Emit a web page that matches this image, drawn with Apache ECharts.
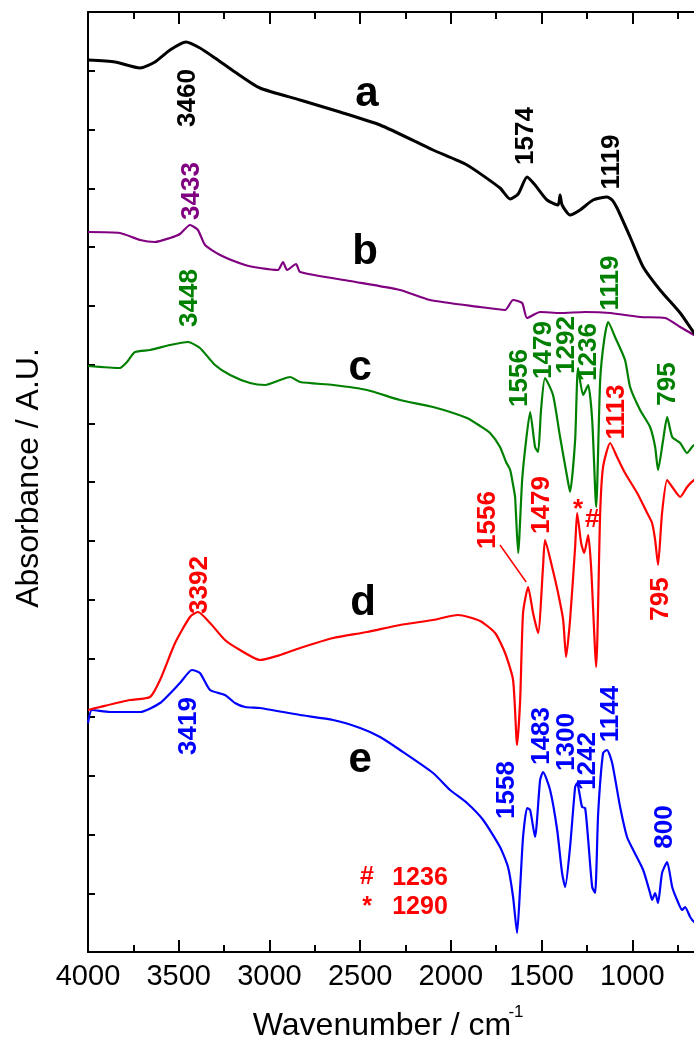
<!DOCTYPE html>
<html><head><meta charset="utf-8">
<script src="https://cdn.jsdelivr.net/npm/echarts/dist/echarts.min.js"></script>
<style>html,body{margin:0;padding:0;background:#fff}#c{width:694px;height:1051px}</style>
</head><body><div id="c"></div><script>
// ---- data: [wavenumber (cm-1), absorbance (arbitrary offset units)] ----
const curveA = [[4000,892],[3851,890],[3713,884],[3631,890],[3548,902],[3460,910],[3383,904],[3300,894],[3190,880],[3052,864],[2831,852],[2611,840],[2390,827],[2098,802],[1911,787],[1729,764],[1673,753],[1629,758],[1580,775],[1536,767],[1470,752],[1409,747],[1398,757],[1387,747],[1343,737],[1288,742],[1216,752],[1139,755],[1111,752],[1084,744],[1012,715],[940,685],[847,662],[736,639],[659,619],[626,612]];
const curveB = [[4000,720],[3824,719],[3713,712],[3631,710],[3548,714],[3493,718],[3438,727],[3394,722],[3355,707],[3272,697],[3134,687],[3052,684],[2953,682],[2925,690],[2903,682],[2853,688],[2831,680],[2556,671],[2280,662],[2115,652],[1839,645],[1701,642],[1657,652],[1607,649],[1580,634],[1508,640],[1398,639],[1260,640],[1122,639],[957,635],[819,634],[736,625],[659,617],[626,614]];
const curveC = [[4000,586],[3824,584],[3785,590],[3741,600],[3658,602],[3548,607],[3449,610],[3383,604],[3300,587],[3217,577],[3107,569],[3024,567],[2941,572],[2886,575],[2831,570],[2649,567],[2462,562],[2280,552],[2098,545],[1911,534],[1839,526],[1784,519],[1729,505],[1696,490],[1673,482],[1657,467],[1646,455],[1629,399],[1607,472],[1585,512],[1563,540],[1536,505],[1519,500],[1503,542],[1481,574],[1437,557],[1398,515],[1359,475],[1343,460],[1315,512],[1299,584],[1271,557],[1243,567],[1221,532],[1199,445],[1177,572],[1155,612],[1133,630],[1095,615],[1040,592],[1012,565],[957,542],[902,525],[874,505],[858,482],[830,512],[808,535],[780,515],[736,509],[698,499],[659,507],[626,507]];
const curveD = [[4000,242],[3934,245],[3768,252],[3658,255],[3603,272],[3520,309],[3438,335],[3394,340],[3327,329],[3245,312],[3162,302],[3052,292],[2941,297],[2831,304],[2649,314],[2462,320],[2280,327],[2098,332],[1960,337],[1839,331],[1756,319],[1701,299],[1657,272],[1635,207],[1618,252],[1602,339],[1574,365],[1547,339],[1519,319],[1492,385],[1481,412],[1442,385],[1409,359],[1381,332],[1365,295],[1343,332],[1315,405],[1304,439],[1282,409],[1265,399],[1243,417],[1227,385],[1199,285],[1177,439],[1161,485],[1122,509],[1084,495],[1040,479],[973,459],[918,439],[891,429],[874,412],[858,387],[836,439],[808,472],[780,465],[736,455],[698,465],[659,472],[626,474]];
const curveE = [[4000,229],[3978,242],[3879,240],[3713,240],[3603,249],[3493,269],[3427,282],[3383,279],[3327,262],[3245,257],[3190,249],[3134,245],[3052,244],[2831,237],[2649,232],[2500,224],[2390,215],[2280,202],[2098,179],[2004,162],[1911,149],[1822,132],[1729,105],[1685,85],[1657,55],[1635,19],[1618,65],[1602,115],[1580,144],[1563,142],[1536,115],[1508,172],[1492,180],[1453,162],[1414,122],[1387,79],[1370,65],[1343,105],[1315,165],[1304,169],[1277,145],[1260,144],[1243,112],[1221,65],[1205,59],[1188,139],[1161,199],[1139,202],[1111,189],[1067,145],[1029,115],[995,102],[940,82],[902,59],[891,52],[874,59],[858,49],[836,79],[808,90],[780,65],[753,52],[725,42],[709,45],[681,35],[659,30],[626,27]];

// peak annotations: [x, y, text]
const peaksA = [[3449,854,'3460'],[1585,816,'1574'],[1111,790,'1119']];
const peaksB = [[3427,761,'3433']];
const peaksC = [[3438,654,'3448'],[1618,574,'1556'],[1486,602,'1479'],[1359,607,'1292'],[1238,600,'1236'],[1117,669,'1119'],[802,568,'795']];
const peaksD = [[3383,367,'3392'],[1795,432,'1556'],[1497,447,'1479'],[1084,540,'1113'],[841,353,'795']];
const marksD = [[1299,442,'*'],[1221,432,'#']];
const peaksE = [[3443,226,'3419'],[1690,162,'1558'],[1497,216,'1483'],[1359,210,'1300'],[1243,191,'1242'],[1117,238,'1144'],[819,125,'800']];
const curveLetters = [[2462,858,'a'],[2473,700,'b'],[2500,584,'c'],[2484,349,'d'],[2500,192,'e']];
const keyText = [[2462,75,'#'],[2170,74,'1236'],[2462,45,'*'],[2170,45,'1290']];
const connector1556 = [[1729,407],[1585,370]];

const xTicks = {min:500, max:4000, interval:500};
const colors = {a:'#000000', b:'#800080', c:'#008000', d:'#ff0000', e:'#0000ff'};

const FONT = '"Liberation Sans", Arial, sans-serif';
const chart = echarts.init(document.getElementById('c'), null, {renderer:'canvas'});

function lineSeries(data, color, w){
  return {type:'line', data, showSymbol:false, symbol:'none', smooth:0.2,
    lineStyle:{color, width:w, opacity:1}, itemStyle:{color, opacity:1}, silent:true, animation:false, z:2};
}
function labelSeries(arr, color, rot, size, weight){
  return {type:'scatter', symbolSize:0, silent:true, animation:false, z:5,
    data: arr.map(d=>({value:[d[0],d[1]], name:d[2]})),
    itemStyle:{color:color, opacity:1},
    emphasis:{disabled:true},
    label:{show:true, position:'inside', formatter:'{b}', rotate:rot, color, opacity:1,
      textBorderWidth:0, textShadowBlur:0,
      fontSize:size, fontWeight:weight, fontFamily:FONT, align:'center', verticalAlign:'middle'}};
}

const axisCommon = {
  type:'value', min:xTicks.min, max:xTicks.max, interval:xTicks.interval, inverse:true,
  axisLine:{show:true, onZero:false, lineStyle:{color:'#000', width:2}},
  axisTick:{show:true, inside:true, length:12, lineStyle:{color:'#000', width:2}},
  minorTick:{show:true, splitNumber:2, length:7, lineStyle:{color:'#000', width:2}},
  splitLine:{show:false}, minorSplitLine:{show:false}
};

const redSeries = lineSeries(curveD, colors.d, 2.2);
redSeries.markLine = {silent:true, symbol:['none','none'], animation:false,
  label:{show:false}, lineStyle:{color:colors.d, width:1.5, type:'solid', opacity:1},
  emphasis:{disabled:true},
  data:[[{coord:connector1556[0]},{coord:connector1556[1]}]]};

chart.setOption({
  animation:false,
  backgroundColor:'#fff',
  grid:{left:88, top:12, width:635, height:940, containLabel:false, outerBoundsMode:'none'},
  xAxis:[
    Object.assign({}, axisCommon, {position:'bottom',
      axisLabel:{show:true, margin:10, color:'#000', fontSize:29, fontFamily:FONT,
        formatter:v=> v>=1000 ? String(v) : ''}}),
    Object.assign({}, axisCommon, {position:'top', axisLabel:{show:false}})
  ],
  yAxis:{type:'value', min:0, max:940, interval:58.75,
    axisLine:{show:true, onZero:false, lineStyle:{color:'#000', width:2}},
    axisTick:{show:true, inside:true, length:7, lineStyle:{color:'#000', width:2}},
    axisLabel:{show:false}, splitLine:{show:false}},
  graphic:[
    {type:'text', x:29, y:478, rotation:Math.PI/2, silent:true,
      style:{text:'Absorbance / A.U.', x:0, y:0, align:'center', verticalAlign:'middle',
        fill:'#000', font:'32px '+FONT}},
    {type:'text', x:382, y:1026, silent:true,
      style:{text:'Wavenumber / cm', x:0, y:0, align:'center', verticalAlign:'middle',
        fill:'#000', font:'32px '+FONT}},
    {type:'text', x:516, y:1012, silent:true,
      style:{text:'-1', x:0, y:0, align:'center', verticalAlign:'middle',
        fill:'#000', font:'17px '+FONT}}
  ],
  series:[
    lineSeries(curveE, colors.e, 2.2),
    redSeries,
    lineSeries(curveC, colors.c, 2.2),
    lineSeries(curveB, colors.b, 2.2),
    lineSeries(curveA, colors.a, 3),
    labelSeries(peaksA, colors.a, 90, 26, 'bold'),
    labelSeries(peaksB, colors.b, 90, 26, 'bold'),
    labelSeries(peaksC, colors.c, 90, 26, 'bold'),
    labelSeries(peaksD, colors.d, 90, 26, 'bold'),
    labelSeries(marksD, colors.d, 0, 26, 'bold'),
    labelSeries(peaksE, colors.e, 90, 26, 'bold'),
    labelSeries(curveLetters, '#000', 0, 42, 'bold'),
    labelSeries(keyText, colors.d, 0, 25, 'bold')
  ]
});
</script></body></html>
